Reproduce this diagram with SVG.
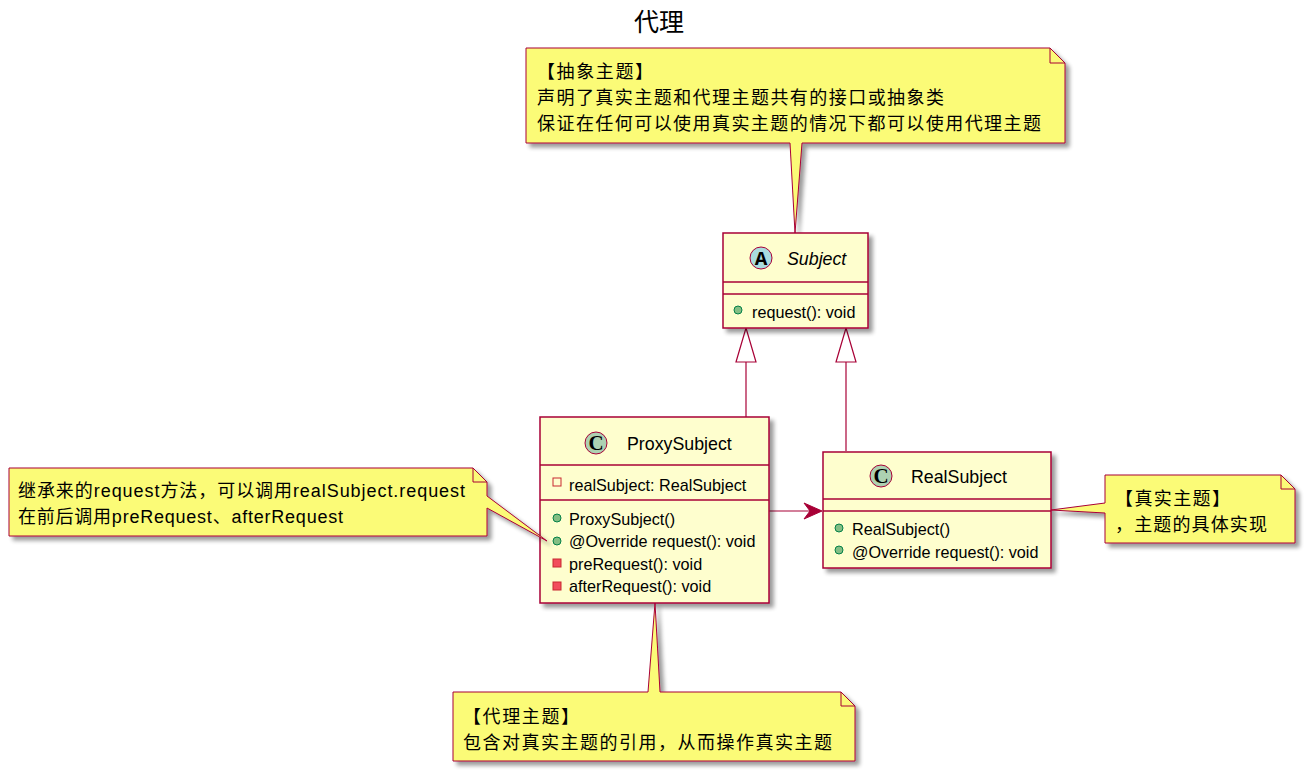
<svg xmlns="http://www.w3.org/2000/svg" width="1308" height="777" viewBox="0 0 1308 777">
<defs>
<filter id="sh" x="-10%" y="-10%" width="130%" height="140%">
<feGaussianBlur in="SourceAlpha" stdDeviation="2"/>
<feOffset dx="4" dy="4" result="b"/>
<feComponentTransfer><feFuncA type="linear" slope="0.4"/></feComponentTransfer>
<feMerge><feMergeNode/><feMergeNode in="SourceGraphic"/></feMerge>
</filter>
</defs>
<style>
.cls{fill:#FEFECE;stroke:#A80036;stroke-width:1.5;filter:url(#sh)}
.sep{stroke:#A80036;stroke-width:1.5}
.note{fill:#FBFB77;stroke:#A80036;stroke-width:1;filter:url(#sh)}
.fold{fill:none;stroke:#A80036;stroke-width:1}
.ntx{font-family:"Liberation Sans","Noto Sans CJK SC",sans-serif;font-size:18px;fill:#000}
.name{font-family:"Liberation Sans",sans-serif;font-size:17.8px;fill:#000}
.mem{font-family:"Liberation Sans",sans-serif;font-size:16.2px;fill:#000}
.ca{fill:#A9DCDF;stroke:#A80036;stroke-width:1}
.cc{fill:#ADD1B2;stroke:#A80036;stroke-width:1}
.glyph{font-family:"Liberation Serif",serif;font-weight:bold;font-size:21px;fill:#000;text-anchor:middle}
.pub{fill:#84BE84;stroke:#038048;stroke-width:1}
.privf{fill:none;stroke:#C82930;stroke-width:1}
.privm{fill:#F24D5C;stroke:#C82930;stroke-width:1}
.edge{fill:none;stroke:#A80036;stroke-width:1.2}
</style>
<rect width="1308" height="777" fill="#FFFFFF"/>
<text x="659" y="31" text-anchor="middle" style="font-family:'Noto Sans CJK SC',sans-serif;font-size:25px;fill:#000">代理</text>

<g id="connectors">
<line class="edge" x1="746" y1="362" x2="746" y2="417"/>
<polygon points="746,328 736,362 756,362" fill="#FFFFFF" stroke="#A80036" stroke-width="1.2"/>
<line class="edge" x1="846" y1="362" x2="846" y2="451"/>
<polygon points="846,328 836,362 856,362" fill="#FFFFFF" stroke="#A80036" stroke-width="1.2"/>
<line class="edge" x1="769" y1="511" x2="812" y2="511"/>
<polygon points="822,511 804,503 810,511 804,519" fill="#A80036" stroke="#A80036" stroke-width="1"/>
</g>

<g id="note-abstract">
<path class="note" d="M526,48 L1050,48 L1065,63 L1065,143 L802,143 L795,233 L790,143 L526,143 Z"/>
<path class="fold" d="M1050,48 L1050,63 L1065,63"/>
<text class="ntx" x="537" y="78" textLength="116" lengthAdjust="spacing">【抽象主题】</text>
<text class="ntx" x="537" y="104" textLength="407" lengthAdjust="spacing">声明了真实主题和代理主题共有的接口或抽象类</text>
<text class="ntx" x="537" y="130" textLength="504" lengthAdjust="spacing">保证在任何可以使用真实主题的情况下都可以使用代理主题</text>
</g>

<g id="Subject">
<rect class="cls" x="723" y="233" width="145" height="95"/>
<line class="sep" x1="723" y1="282" x2="868" y2="282"/>
<line class="sep" x1="723" y1="294" x2="868" y2="294"/>
<circle class="ca" cx="761" cy="258" r="11"/>
<text class="glyph" x="761" y="265" style="font-family:'Liberation Mono',monospace">A</text>
<text class="name" x="787" y="265" font-style="italic">Subject</text>
<circle class="pub" cx="738" cy="310" r="4"/>
<text class="mem" x="752" y="318">request(): void</text>
</g>

<g id="ProxySubject">
<rect class="cls" x="540" y="417" width="229" height="186"/>
<line class="sep" x1="540" y1="465" x2="769" y2="465"/>
<line class="sep" x1="540" y1="500" x2="769" y2="500"/>
<circle class="cc" cx="596" cy="443" r="11"/>
<text class="glyph" x="596" y="450">C</text>
<text class="name" x="627" y="450">ProxySubject</text>
<rect class="privf" x="553" y="478" width="8" height="8"/>
<text class="mem" x="569" y="491">realSubject: RealSubject</text>
<circle class="pub" cx="557" cy="518" r="4"/>
<text class="mem" x="569" y="525">ProxySubject()</text>
<circle class="pub" cx="557" cy="541" r="4"/>
<text class="mem" x="569" y="547">@Override request(): void</text>
<rect class="privm" x="553" y="559" width="8" height="8"/>
<text class="mem" x="569" y="570">preRequest(): void</text>
<rect class="privm" x="553" y="582" width="8" height="8"/>
<text class="mem" x="569" y="592">afterRequest(): void</text>
</g>

<g id="RealSubject">
<rect class="cls" x="823" y="452" width="228" height="116"/>
<line class="sep" x1="823" y1="499" x2="1051" y2="499"/>
<line class="sep" x1="823" y1="511" x2="1051" y2="511"/>
<circle class="cc" cx="881" cy="476" r="11"/>
<text class="glyph" x="881" y="483">C</text>
<text class="name" x="911" y="483">RealSubject</text>
<circle class="pub" cx="839" cy="528" r="4"/>
<text class="mem" x="852" y="535">RealSubject()</text>
<circle class="pub" cx="839" cy="550" r="4"/>
<text class="mem" x="852" y="558">@Override request(): void</text>
</g>

<g id="note-proxy-method">
<path class="note" d="M9,468 L473,468 L487,482 L487,496 L547,541 L487,508 L487,536 L9,536 Z"/>
<path class="fold" d="M473,468 L473,482 L487,482"/>
<text class="ntx" x="18" y="497" textLength="447" lengthAdjust="spacing">继承来的request方法，可以调用realSubject.request</text>
<text class="ntx" x="18" y="523" textLength="325" lengthAdjust="spacing">在前后调用preRequest、afterRequest</text>
</g>

<g id="note-real">
<path class="note" d="M1105,475 L1281,475 L1295,489 L1295,543 L1105,543 L1105,513 L1051,510 L1105,503 Z"/>
<path class="fold" d="M1281,475 L1281,489 L1295,489"/>
<text class="ntx" x="1115" y="505" textLength="115" lengthAdjust="spacing">【真实主题】</text>
<text class="ntx" x="1115" y="531" textLength="152" lengthAdjust="spacing">，主题的具体实现</text>
</g>

<g id="note-proxy">
<path class="note" d="M453,692 L648,692 L655,603 L660,692 L841,692 L855,706 L855,761 L453,761 Z"/>
<path class="fold" d="M841,692 L841,706 L855,706"/>
<text class="ntx" x="463" y="723" textLength="116" lengthAdjust="spacing">【代理主题】</text>
<text class="ntx" x="463" y="749" textLength="369" lengthAdjust="spacing">包含对真实主题的引用，从而操作真实主题</text>
</g>
</svg>
